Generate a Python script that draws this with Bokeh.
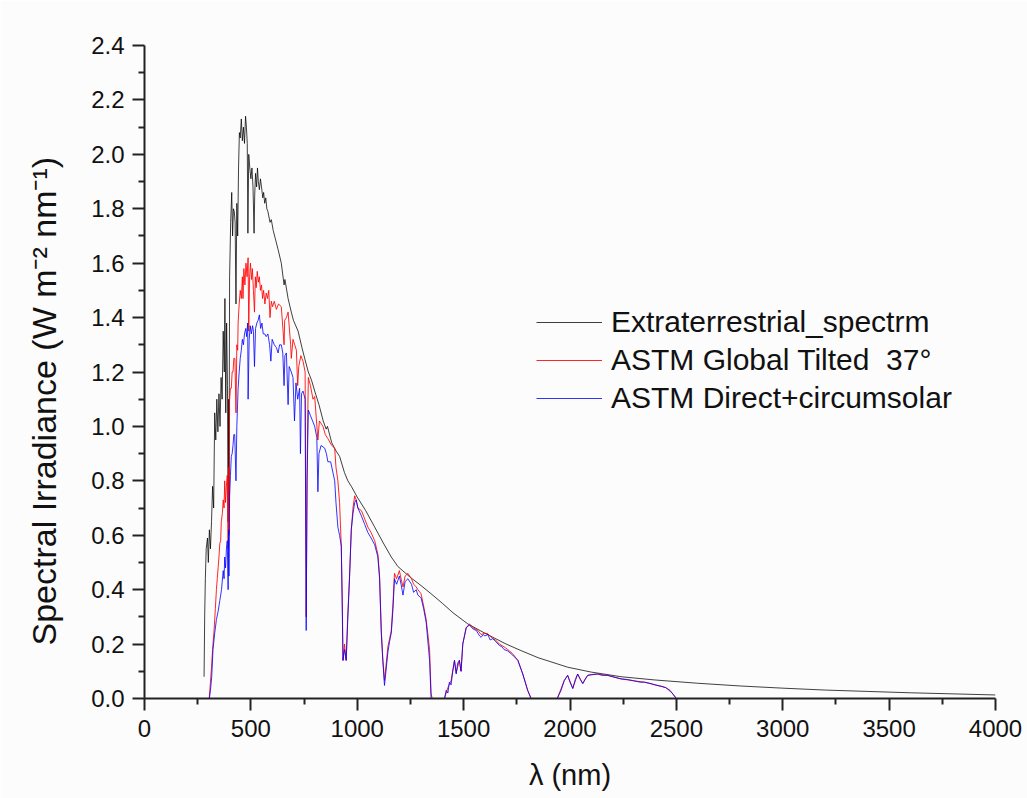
from bokeh.plotting import figure
from bokeh.models import Range1d, FixedTicker, PrintfTickFormatter, Legend, LegendItem, Title
from bokeh.embed import file_html
from bokeh.resources import INLINE

# ---- data (wavelength nm, irradiance W m-2 nm-1) ----
etr_wl = [280, 283, 286, 290, 296, 300, 305, 310, 315, 320, 325, 330, 335, 340, 345, 350, 355, 360, 365, 370,
          375, 378, 382, 386, 390, 393, 396, 397, 400, 405, 410, 414, 418, 422, 426, 430, 434, 438, 442, 446,
          450, 455, 460, 465, 470, 475, 479, 483, 486, 490, 495, 500, 505, 510, 515, 518, 522, 527, 531, 535,
          540, 545, 550, 556, 560, 565, 570, 575, 580, 590, 596, 605, 615, 628, 643, 656, 660, 675, 690, 700,
          722, 740, 753, 770, 785, 800, 820, 840, 854, 860, 880, 900, 917, 940, 956, 972, 1000, 1040, 1082, 1120,
          1160, 1191, 1250, 1300, 1347, 1400, 1450, 1520, 1600, 1700, 1770, 1850, 1989, 2100, 2240, 2400, 2600,
          2800, 3000, 3200, 3400, 3600, 3800, 4000]
etr_val = [0.08, 0.31, 0.44, 0.55, 0.59, 0.50, 0.62, 0.55, 0.65, 0.78, 0.70, 1.05, 0.95, 1.10, 0.98, 1.12, 1.00, 1.18, 1.10, 1.35,
           1.20, 1.47, 1.05, 1.38, 1.15, 0.65, 1.10, 0.70, 1.55, 1.75, 1.86, 1.70, 1.80, 1.79, 1.75, 1.45, 1.82, 1.70, 1.95, 2.08,
           2.06, 2.13, 2.05, 2.10, 2.04, 2.14, 2.10, 2.04, 1.71, 2.00, 1.95, 1.91, 1.95, 1.88, 1.71, 1.85, 1.93, 1.88, 1.95, 1.90,
           1.87, 1.91, 1.88, 1.84, 1.86, 1.82, 1.84, 1.80, 1.79, 1.75, 1.76, 1.72, 1.69, 1.65, 1.60, 1.52, 1.54, 1.47, 1.42, 1.39,
           1.35, 1.29, 1.25, 1.20, 1.17, 1.13, 1.08, 1.02, 0.99, 1.00, 0.94, 0.91, 0.89, 0.83, 0.80, 0.78, 0.74, 0.69, 0.63, 0.575,
           0.52, 0.485, 0.445, 0.415, 0.385, 0.35, 0.315, 0.274, 0.24, 0.20, 0.176, 0.15, 0.115, 0.097, 0.08, 0.068, 0.056,
           0.046, 0.038, 0.031, 0.026, 0.021, 0.017, 0.013]

glob_wl = [304, 310, 315, 320, 327, 333, 338, 342, 346, 350, 354, 358, 361, 366, 370, 374, 377, 381, 385, 389,
           393, 396, 397, 400, 404, 408, 412, 416, 420, 425, 430, 434, 438, 440, 445, 450, 455, 460, 463, 467,
           472, 477, 482, 487, 490, 494, 498, 503, 507, 512, 517, 521, 525, 530, 535, 540, 545, 550, 555, 560,
           566, 572, 578, 584, 590, 596, 602, 610, 620, 630, 643, 656, 659, 667, 675, 687, 690, 698, 706, 714,
           720, 725, 735, 745, 755, 760, 765, 770, 780, 792, 800, 815, 822, 839, 850, 862, 880, 894, 900, 909,
           917, 925, 930, 933, 940, 948, 955, 964, 972, 980, 988, 995, 1003, 1020, 1035, 1050, 1065, 1082, 1097, 1105,
           1113, 1120, 1128, 1135, 1144, 1152, 1160, 1168, 1175, 1185, 1198, 1206, 1215, 1225, 1238, 1255, 1265, 1277, 1285, 1300,
           1312, 1324, 1340, 1347, 1352, 1410, 1426, 1441, 1457, 1465, 1480, 1488, 1496, 1512, 1527, 1545, 1567, 1582, 1600, 1614,
           1637, 1650, 1668, 1690, 1707, 1730, 1755, 1778, 1801, 1817, 1940, 1973, 1989, 2013, 2036, 2060, 2083, 2130, 2177, 2240,
           2300, 2350, 2400, 2450, 2480, 2500]
glob_val = [0.0, 0.06, 0.115, 0.18, 0.25, 0.33, 0.40, 0.44, 0.48, 0.52, 0.57, 0.58, 0.65, 0.68, 0.73, 0.70, 0.80, 0.72, 0.78, 0.82,
            0.55, 0.85, 0.60, 1.10, 1.14, 1.14, 1.20, 1.20, 1.25, 1.25, 1.05, 1.30, 1.28, 1.38, 1.45, 1.50, 1.47, 1.55, 1.47, 1.58,
            1.52, 1.60, 1.55, 1.62, 1.35, 1.55, 1.60, 1.54, 1.58, 1.50, 1.42, 1.55, 1.51, 1.57, 1.53, 1.55, 1.50, 1.52, 1.47, 1.50,
            1.45, 1.49, 1.47, 1.50, 1.40, 1.46, 1.44, 1.46, 1.43, 1.45, 1.44, 1.30, 1.39, 1.40, 1.42, 1.30, 1.25, 1.32, 1.30, 1.28,
            1.15, 1.22, 1.26, 1.24, 1.20, 0.30, 0.90, 1.18, 1.15, 1.10, 1.11, 0.95, 1.02, 1.00, 0.97, 0.955, 0.93, 0.92, 0.85, 0.80,
            0.72, 0.56, 0.35, 0.14, 0.20, 0.14, 0.30, 0.45, 0.62, 0.70, 0.745, 0.73, 0.70, 0.69, 0.66, 0.63, 0.61, 0.58, 0.53, 0.45,
            0.25, 0.15, 0.066, 0.12, 0.19, 0.22, 0.25, 0.35, 0.46, 0.44, 0.47, 0.44, 0.41, 0.45, 0.46, 0.44, 0.42, 0.41, 0.40, 0.385,
            0.34, 0.29, 0.18, 0.02, 0.0, 0.0, 0.04, 0.066, 0.14, 0.095, 0.14, 0.10, 0.20, 0.26, 0.274, 0.26, 0.25, 0.235, 0.24, 0.238,
            0.22, 0.215, 0.20, 0.19, 0.18, 0.165, 0.14, 0.09, 0.03, 0.0, 0.0, 0.066, 0.085, 0.037, 0.09, 0.055, 0.085, 0.09, 0.085, 0.072,
            0.065, 0.06, 0.05, 0.04, 0.02, 0.0]

dir_wl = [305, 310, 316, 322, 330, 338, 346, 354, 362, 370, 374, 377, 381, 385, 389, 393, 396, 397, 400, 404,
          408, 412, 416, 420, 424, 430, 434, 440, 445, 450, 455, 460, 465, 470, 476, 480, 485, 487, 492, 497,
          502, 508, 512, 517, 522, 528, 534, 540, 546, 552, 558, 565, 572, 580, 588, 594, 600, 610, 620, 628,
          635, 643, 650, 656, 660, 667, 675, 680, 690, 698, 705, 712, 720, 729, 733, 738, 745, 755, 760, 764,
          770, 780, 790, 800, 810, 815, 820, 830, 847, 855, 862, 875, 894, 900, 909, 917, 925, 930, 933, 940,
          948, 955, 964, 972, 980, 988, 995, 1003, 1020, 1035, 1050, 1065, 1082, 1097, 1105, 1113, 1120, 1128, 1135, 1144,
          1152, 1160, 1168, 1175, 1185, 1198, 1206, 1215, 1225, 1238, 1255, 1265, 1277, 1285, 1300, 1312, 1324, 1340, 1347, 1410,
          1418, 1426, 1433, 1441, 1449, 1457, 1465, 1472, 1480, 1488, 1496, 1512, 1527, 1545, 1560, 1567, 1575, 1582, 1592, 1600,
          1614, 1625, 1637, 1650, 1668, 1680, 1690, 1707, 1730, 1755, 1778, 1801, 1817, 1940, 1958, 1973, 1989, 2000, 2013, 2025,
          2036, 2048, 2060, 2070, 2083, 2100, 2130, 2150, 2177, 2200, 2240, 2270, 2300, 2330, 2350, 2380, 2400, 2430, 2450, 2470,
          2485, 2500]
dir_val = [0.0, 0.03, 0.08, 0.18, 0.24, 0.29, 0.32, 0.36, 0.40, 0.47, 0.44, 0.52, 0.48, 0.55, 0.58, 0.40, 0.62, 0.45, 0.74, 0.82,
           0.89, 0.90, 0.93, 0.97, 0.97, 0.80, 1.00, 1.14, 1.20, 1.25, 1.28, 1.32, 1.30, 1.34, 1.36, 1.33, 1.38, 1.10, 1.32, 1.37,
           1.34, 1.37, 1.35, 1.22, 1.36, 1.38, 1.39, 1.41, 1.36, 1.38, 1.34, 1.34, 1.33, 1.34, 1.30, 1.24, 1.32, 1.30, 1.29, 1.27,
           1.30, 1.30, 1.27, 1.15, 1.26, 1.27, 1.08, 1.22, 1.20, 1.18, 1.02, 1.16, 1.10, 1.14, 0.90, 1.12, 1.13, 1.10, 0.25, 0.80,
           1.06, 1.04, 1.02, 1.00, 0.96, 0.76, 0.90, 0.93, 0.92, 0.90, 0.87, 0.87, 0.80, 0.72, 0.63, 0.60, 0.56, 0.30, 0.14, 0.18,
           0.14, 0.28, 0.45, 0.62, 0.68, 0.72, 0.73, 0.70, 0.67, 0.64, 0.61, 0.59, 0.565, 0.52, 0.44, 0.24, 0.14, 0.048, 0.10, 0.17,
           0.21, 0.24, 0.33, 0.44, 0.42, 0.45, 0.42, 0.38, 0.43, 0.44, 0.42, 0.39, 0.40, 0.38, 0.37, 0.33, 0.28, 0.14, 0.0, 0.0,
           0.03, 0.02, 0.06, 0.05, 0.10, 0.14, 0.09, 0.13, 0.14, 0.10, 0.20, 0.26, 0.27, 0.255, 0.25, 0.24, 0.23, 0.225, 0.235, 0.23,
           0.235, 0.215, 0.22, 0.21, 0.195, 0.19, 0.18, 0.175, 0.16, 0.14, 0.09, 0.03, 0.0, 0.0, 0.03, 0.066, 0.085, 0.06, 0.037, 0.07,
           0.09, 0.07, 0.055, 0.07, 0.085, 0.088, 0.09, 0.085, 0.085, 0.08, 0.072, 0.07, 0.065, 0.06, 0.06, 0.055, 0.05, 0.045, 0.04, 0.03,
           0.015, 0.0]

x_major_ticks = [0, 500, 1000, 1500, 2000, 2500, 3000, 3500, 4000]
x_minor_ticks = [250, 750, 1250, 1750, 2250, 2750, 3250, 3750]
y_major_ticks = [0.0, 0.2, 0.4, 0.6, 0.8, 1.0, 1.2, 1.4, 1.6, 1.8, 2.0, 2.2, 2.4]
y_minor_ticks = [0.1, 0.3, 0.5, 0.7, 0.9, 1.1, 1.3, 1.5, 1.7, 1.9, 2.1, 2.3]
series_names = ["Extraterrestrial_spectrm", "ASTM Global Tilted  37°", "ASTM Direct+circumsolar"]
x_title = "λ (nm)"
y_title = "Spectral Irradiance (W m⁻² nm⁻¹)"

FONT = "Liberation Sans"
BG = "#fcfcfc"

p = figure(width=1027, height=798, output_backend="svg", toolbar_location=None,
           x_range=Range1d(0, 4000), y_range=Range1d(0, 2.4),
           min_border_left=143, min_border_right=32, min_border_top=45, min_border_bottom=100,
           background_fill_color=BG, border_fill_color=BG)
p.outline_line_color = None
p.grid.visible = False

r1 = p.line(etr_wl, etr_val, line_color="black", line_width=1, line_alpha=0.75)
r2 = p.line(glob_wl, glob_val, line_color="#ff0000", line_width=1, line_alpha=0.85)
r3 = p.line(dir_wl, dir_val, line_color="#0000ff", line_width=1, line_alpha=0.8)

for ax in (p.xaxis[0], p.yaxis[0]):
    ax.axis_line_width = 2
    ax.axis_line_color = "#222222"
    ax.major_tick_line_width = 2
    ax.minor_tick_line_width = 2
    ax.major_tick_line_color = "#222222"
    ax.minor_tick_line_color = "#222222"
    ax.major_tick_out = 12
    ax.major_tick_in = 0
    ax.minor_tick_out = 6
    ax.minor_tick_in = 0
    ax.major_label_text_font = FONT
    ax.major_label_text_font_size = "24px"
    ax.major_label_text_color = "#111111"
    ax.axis_label_text_font = FONT
    ax.axis_label_text_font_style = "normal"
    ax.axis_label_text_color = "#111111"

p.xaxis.ticker = FixedTicker(ticks=x_major_ticks, minor_ticks=x_minor_ticks)
p.yaxis.ticker = FixedTicker(ticks=y_major_ticks, minor_ticks=y_minor_ticks)
p.yaxis.formatter = PrintfTickFormatter(format="%.1f")
p.xaxis.major_label_standoff = 9
p.yaxis.major_label_standoff = 8

p.xaxis.axis_label = x_title
p.xaxis.axis_label_text_font_size = "29px"
p.xaxis.axis_label_standoff = 19

# y-axis title as a left-side title, placed slightly below the frame centre as in the reference
ytitle = Title(text=y_title, align="left", offset=53, standoff=48, vertical_align="top",
               text_font=FONT, text_font_size="34px", text_font_style="normal", text_color="#111111")
p.add_layout(ytitle, "left")

legend = Legend(items=[LegendItem(label=series_names[0], renderers=[r1]),
                       LegendItem(label=series_names[1], renderers=[r2]),
                       LegendItem(label=series_names[2], renderers=[r3])],
                location=(392, 282), padding=0, margin=0, spacing=2,
                glyph_width=66, glyph_height=36, label_standoff=9,
                label_text_font=FONT, label_text_font_size="30px", label_text_color="#111111",
                border_line_alpha=0, background_fill_alpha=0)
p.add_layout(legend)

open("out.html", "w").write(file_html(p, INLINE))
